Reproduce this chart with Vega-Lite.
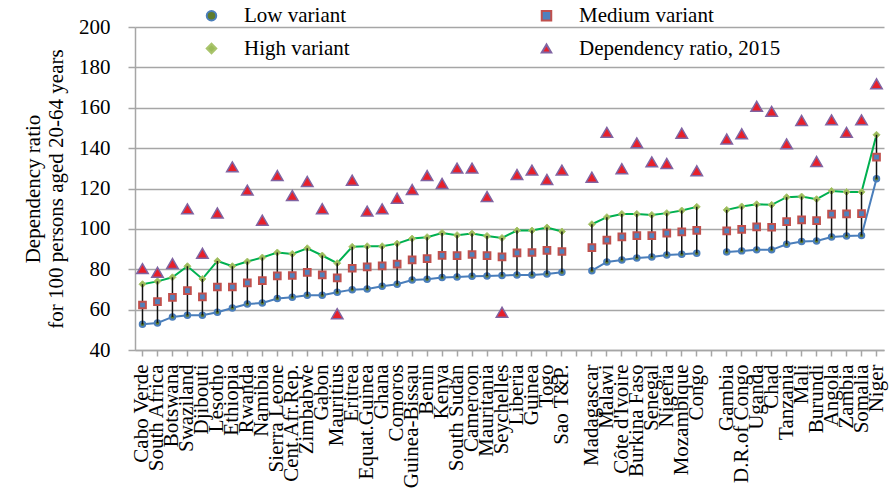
{
  "$schema": "https://vega.github.io/schema/vega-lite/v6.json",
  "width": 749,
  "height": 323,
  "autosize": "none",
  "padding": {"left": 135, "top": 27, "right": 7, "bottom": 144},
  "background": "white",
  "config": {
    "view": {"stroke": null},
    "lineBreak": "\n"
  },
  "data": {"values": [
    {"country": "Cabo Verde", "grp": "a", "Low variant": 52.7, "Medium variant": 62.3, "High variant": 72.6, "Dependency ratio, 2015": 80.3},
    {"country": "South Africa", "grp": "a", "Low variant": 53.4, "Medium variant": 64.0, "High variant": 74.0, "Dependency ratio, 2015": 78.5},
    {"country": "Botswana", "grp": "a", "Low variant": 56.4, "Medium variant": 66.1, "High variant": 76.0, "Dependency ratio, 2015": 82.8},
    {"country": "Swaziland", "grp": "a", "Low variant": 57.2, "Medium variant": 69.4, "High variant": 81.5, "Dependency ratio, 2015": 109.9},
    {"country": "Djibouti", "grp": "a", "Low variant": 57.2, "Medium variant": 66.3, "High variant": 75.2, "Dependency ratio, 2015": 87.9},
    {"country": "Lesotho", "grp": "a", "Low variant": 58.7, "Medium variant": 71.2, "High variant": 84.1, "Dependency ratio, 2015": 107.9},
    {"country": "Ethiopia", "grp": "a", "Low variant": 60.8, "Medium variant": 71.2, "High variant": 81.5, "Dependency ratio, 2015": 130.7},
    {"country": "Rwanda", "grp": "a", "Low variant": 62.8, "Medium variant": 73.2, "High variant": 83.8, "Dependency ratio, 2015": 119.2},
    {"country": "Namibia", "grp": "a", "Low variant": 63.3, "Medium variant": 74.4, "High variant": 85.8, "Dependency ratio, 2015": 104.3},
    {"country": "Sierra Leone", "grp": "a", "Low variant": 65.5, "Medium variant": 76.7, "High variant": 88.3, "Dependency ratio, 2015": 126.4},
    {"country": "Cent.Afr.Rep.", "grp": "a", "Low variant": 66.1, "Medium variant": 76.9, "High variant": 87.6, "Dependency ratio, 2015": 116.5},
    {"country": "Zimbabwe", "grp": "a", "Low variant": 67.1, "Medium variant": 78.5, "High variant": 90.4, "Dependency ratio, 2015": 123.5},
    {"country": "Gabon", "grp": "a", "Low variant": 67.1, "Medium variant": 77.2, "High variant": 86.8, "Dependency ratio, 2015": 110.0},
    {"country": "Mauritius", "grp": "a", "Low variant": 68.6, "Medium variant": 75.7, "High variant": 83.0, "Dependency ratio, 2015": 58.0},
    {"country": "Eritrea", "grp": "a", "Low variant": 69.9, "Medium variant": 80.5, "High variant": 91.1, "Dependency ratio, 2015": 124.1},
    {"country": "Equat.Guinea", "grp": "a", "Low variant": 70.2, "Medium variant": 81.2, "High variant": 91.4, "Dependency ratio, 2015": 108.8},
    {"country": "Ghana", "grp": "a", "Low variant": 71.6, "Medium variant": 81.7, "High variant": 91.4, "Dependency ratio, 2015": 109.9},
    {"country": "Comoros", "grp": "a", "Low variant": 72.6, "Medium variant": 82.5, "High variant": 92.7, "Dependency ratio, 2015": 115.2},
    {"country": "Guinea-Bissau", "grp": "a", "Low variant": 74.7, "Medium variant": 84.6, "High variant": 95.2, "Dependency ratio, 2015": 119.5},
    {"country": "Benin", "grp": "a", "Low variant": 75.0, "Medium variant": 85.3, "High variant": 95.9, "Dependency ratio, 2015": 126.4},
    {"country": "Kenya", "grp": "a", "Low variant": 75.9, "Medium variant": 86.9, "High variant": 98.0, "Dependency ratio, 2015": 122.5},
    {"country": "South Sudan", "grp": "a", "Low variant": 76.2, "Medium variant": 86.8, "High variant": 96.9, "Dependency ratio, 2015": 130.1},
    {"country": "Cameroon", "grp": "a", "Low variant": 76.5, "Medium variant": 87.3, "High variant": 97.7, "Dependency ratio, 2015": 130.1},
    {"country": "Mauritania", "grp": "a", "Low variant": 76.7, "Medium variant": 86.8, "High variant": 96.5, "Dependency ratio, 2015": 116.0},
    {"country": "Seychelles", "grp": "a", "Low variant": 76.9, "Medium variant": 86.1, "High variant": 95.5, "Dependency ratio, 2015": 58.7},
    {"country": "Liberia", "grp": "a", "Low variant": 77.2, "Medium variant": 88.1, "High variant": 99.2, "Dependency ratio, 2015": 126.9},
    {"country": "Guinea", "grp": "a", "Low variant": 77.2, "Medium variant": 88.3, "High variant": 99.2, "Dependency ratio, 2015": 129.1},
    {"country": "Togo", "grp": "a", "Low variant": 77.7, "Medium variant": 89.3, "High variant": 100.7, "Dependency ratio, 2015": 124.5},
    {"country": "Sao T&P.", "grp": "a", "Low variant": 78.5, "Medium variant": 88.8, "High variant": 98.7, "Dependency ratio, 2015": 129.1},
    {"country": "Madagascar", "grp": "b", "Low variant": 79.3, "Medium variant": 90.7, "High variant": 102.3, "Dependency ratio, 2015": 125.6},
    {"country": "Malawi", "grp": "b", "Low variant": 83.6, "Medium variant": 94.4, "High variant": 105.8, "Dependency ratio, 2015": 147.8},
    {"country": "Côte d'Ivoire", "grp": "b", "Low variant": 84.6, "Medium variant": 96.0, "High variant": 107.4, "Dependency ratio, 2015": 129.8},
    {"country": "Burkina Faso", "grp": "b", "Low variant": 85.6, "Medium variant": 96.7, "High variant": 107.4, "Dependency ratio, 2015": 142.6},
    {"country": "Senegal", "grp": "b", "Low variant": 86.1, "Medium variant": 96.7, "High variant": 106.9, "Dependency ratio, 2015": 133.2},
    {"country": "Nigeria", "grp": "b", "Low variant": 87.1, "Medium variant": 97.9, "High variant": 107.8, "Dependency ratio, 2015": 132.4},
    {"country": "Mozambique", "grp": "b", "Low variant": 87.4, "Medium variant": 98.5, "High variant": 109.1, "Dependency ratio, 2015": 147.4},
    {"country": "Congo", "grp": "b", "Low variant": 87.9, "Medium variant": 99.3, "High variant": 110.9, "Dependency ratio, 2015": 128.8},
    {"country": "Gambia", "grp": "c", "Low variant": 88.6, "Medium variant": 99.0, "High variant": 109.4, "Dependency ratio, 2015": 144.5},
    {"country": "D.R.of Congo", "grp": "c", "Low variant": 89.1, "Medium variant": 99.8, "High variant": 111.1, "Dependency ratio, 2015": 147.1},
    {"country": "Uganda", "grp": "c", "Low variant": 89.6, "Medium variant": 101.0, "High variant": 112.2, "Dependency ratio, 2015": 160.7},
    {"country": "Chad", "grp": "c", "Low variant": 89.6, "Medium variant": 100.8, "High variant": 111.9, "Dependency ratio, 2015": 158.2},
    {"country": "Tanzania", "grp": "c", "Low variant": 92.4, "Medium variant": 103.6, "High variant": 115.7, "Dependency ratio, 2015": 142.1},
    {"country": "Mali", "grp": "c", "Low variant": 93.7, "Medium variant": 104.5, "High variant": 116.0, "Dependency ratio, 2015": 153.7},
    {"country": "Burundi", "grp": "c", "Low variant": 94.0, "Medium variant": 104.1, "High variant": 114.7, "Dependency ratio, 2015": 133.4},
    {"country": "Angola", "grp": "c", "Low variant": 96.0, "Medium variant": 107.3, "High variant": 118.8, "Dependency ratio, 2015": 154.0},
    {"country": "Zambia", "grp": "c", "Low variant": 96.5, "Medium variant": 107.4, "High variant": 118.3, "Dependency ratio, 2015": 147.8},
    {"country": "Somalia", "grp": "c", "Low variant": 96.7, "Medium variant": 107.6, "High variant": 118.3, "Dependency ratio, 2015": 154.0},
    {"country": "Niger", "grp": "c", "Low variant": 124.8, "Medium variant": 135.5, "High variant": 146.6, "Dependency ratio, 2015": 171.9}
  ]},
  "encoding": {
    "x": {
      "field": "country", "type": "nominal",
      "scale": {
        "type": "band",
        "domain": ["Cabo Verde","South Africa","Botswana","Swaziland","Djibouti","Lesotho","Ethiopia","Rwanda","Namibia","Sierra Leone","Cent.Afr.Rep.","Zimbabwe","Gabon","Mauritius","Eritrea","Equat.Guinea","Ghana","Comoros","Guinea-Bissau","Benin","Kenya","South Sudan","Cameroon","Mauritania","Seychelles","Liberia","Guinea","Togo","Sao T&P."," ","Madagascar","Malawi","Côte d'Ivoire","Burkina Faso","Senegal","Nigeria","Mozambique","Congo","  ","Gambia","D.R.of Congo","Uganda","Chad","Tanzania","Mali","Burundi","Angola","Zambia","Somalia","Niger"],
        "paddingInner": 0, "paddingOuter": 0
      },
      "axis": {
        "title": null, "labelAngle": -90, "labelFontSize": 21, "labelPadding": 8,
        "labelFont": "Liberation Serif", "labelColor": "black",
        "tickSize": 6, "tickColor": "#a6a6a6", "tickWidth": 1.5,
        "domainColor": "#a6a6a6", "domainWidth": 1.5, "grid": false
      }
    }
  },
  "layer": [
    {
      "mark": {"type": "line", "color": "#4a7ebb", "strokeWidth": 2},
      "encoding": {
        "y": {"field": "Low variant", "type": "quantitative",
          "scale": {"domain": [40, 200], "nice": false, "zero": false},
          "axis": {
            "title": "Dependency ratio\nfor 100 persons aged 20-64 years",
            "titleFont": "Liberation Serif", "titleColor": "black",
            "titleFontSize": 21, "titleFontWeight": "normal", "titlePadding": 12,
            "values": [40, 60, 80, 100, 120, 140, 160, 180, 200],
            "labelFont": "Liberation Serif", "labelColor": "black",
            "labelFontSize": 21, "labelPadding": 18, "tickSize": 7, "tickColor": "#a6a6a6", "tickWidth": 1.5,
            "grid": true, "gridColor": "#a6a6a6", "gridWidth": 1.5,
            "domainColor": "#a6a6a6", "domainWidth": 1.5
          }
        },
        "detail": {"field": "grp", "type": "nominal"}
      }
    },
    {
      "mark": {"type": "line", "color": "#00b050", "strokeWidth": 2},
      "encoding": {
        "y": {"field": "High variant", "type": "quantitative",
          "axis": {
            "title": "Dependency ratio\nfor 100 persons aged 20-64 years",
            "titleFont": "Liberation Serif", "titleColor": "black",
            "titleFontSize": 21, "titleFontWeight": "normal", "titlePadding": 12,
            "values": [40, 60, 80, 100, 120, 140, 160, 180, 200],
            "labelFont": "Liberation Serif", "labelColor": "black",
            "labelFontSize": 21, "labelPadding": 18, "tickSize": 7, "tickColor": "#a6a6a6", "tickWidth": 1.5,
            "grid": true, "gridColor": "#a6a6a6", "gridWidth": 1.5,
            "domainColor": "#a6a6a6", "domainWidth": 1.5
          }
        },
        "detail": {"field": "grp", "type": "nominal"}
      }
    },
    {
      "transform": [{"fold": ["Low variant"], "as": ["series", "value"]}],
      "mark": {"type": "point", "filled": true, "size": 30, "strokeWidth": 2, "opacity": 1},
      "encoding": {
        "y": {"field": "value", "type": "quantitative", "axis": {
            "title": "Dependency ratio\nfor 100 persons aged 20-64 years",
            "titleFont": "Liberation Serif", "titleColor": "black",
            "titleFontSize": 21, "titleFontWeight": "normal", "titlePadding": 12,
            "values": [40, 60, 80, 100, 120, 140, 160, 180, 200],
            "labelFont": "Liberation Serif", "labelColor": "black",
            "labelFontSize": 21, "labelPadding": 18, "tickSize": 7, "tickColor": "#a6a6a6", "tickWidth": 1.5,
            "grid": true, "gridColor": "#a6a6a6", "gridWidth": 1.5,
            "domainColor": "#a6a6a6", "domainWidth": 1.5
          }},
        "shape": {"field": "series", "type": "nominal",
          "scale": {"domain": ["Low variant", "High variant", "Medium variant", "Dependency ratio, 2015"], "range": ["circle", "diamond", "square", "triangle-up"]},
          "legend": {
            "title": null, "orient": "none", "legendX": 66, "legendY": -22, "columns": 2,
            "columnPadding": 186, "rowPadding": 11, "padding": 0,
            "symbolSize": 90, "symbolStrokeWidth": 2, "symbolOffset": 0, "labelOffset": 22,
            "labelFont": "Liberation Serif", "labelFontSize": 21, "labelColor": "black", "labelLimit": 400
          }
        },
        "fill": {"field": "series", "type": "nominal",
          "scale": {"domain": ["Low variant", "High variant", "Medium variant", "Dependency ratio, 2015"], "range": ["#5e7b2c", "#9bbb59", "#4f81bd", "#e8202a"]}},
        "stroke": {"field": "series", "type": "nominal",
          "scale": {"domain": ["Low variant", "High variant", "Medium variant", "Dependency ratio, 2015"], "range": ["#4a7ebb", "#a9c46c", "#c0504d", "#8064a2"]}}
      }
    },
    {
      "transform": [{"fold": ["High variant"], "as": ["series", "value"]}],
      "mark": {"type": "point", "filled": true, "size": 49, "strokeWidth": 1, "opacity": 1},
      "encoding": {
        "y": {"field": "value", "type": "quantitative"},
        "shape": {"field": "series", "type": "nominal"},
        "fill": {"field": "series", "type": "nominal"},
        "stroke": {"field": "series", "type": "nominal"}
      }
    },
    {
      "mark": {"type": "rule", "color": "#111111", "strokeWidth": 1.5},
      "encoding": {
        "y": {"field": "Low variant", "type": "quantitative"},
        "y2": {"field": "High variant"}
      }
    },
    {
      "transform": [{"fold": ["Medium variant"], "as": ["series", "value"]}],
      "mark": {"type": "point", "filled": true, "size": 45, "strokeWidth": 2, "opacity": 1},
      "encoding": {
        "y": {"field": "value", "type": "quantitative"},
        "shape": {"field": "series", "type": "nominal"},
        "fill": {"field": "series", "type": "nominal"},
        "stroke": {"field": "series", "type": "nominal"}
      }
    },
    {
      "transform": [{"fold": ["Dependency ratio, 2015"], "as": ["series", "value"]}],
      "mark": {"type": "point", "filled": true, "size": 132, "strokeWidth": 1.5, "opacity": 1},
      "encoding": {
        "y": {"field": "value", "type": "quantitative"},
        "shape": {"field": "series", "type": "nominal"},
        "fill": {"field": "series", "type": "nominal"},
        "stroke": {"field": "series", "type": "nominal"}
      }
    }
  ]
}
